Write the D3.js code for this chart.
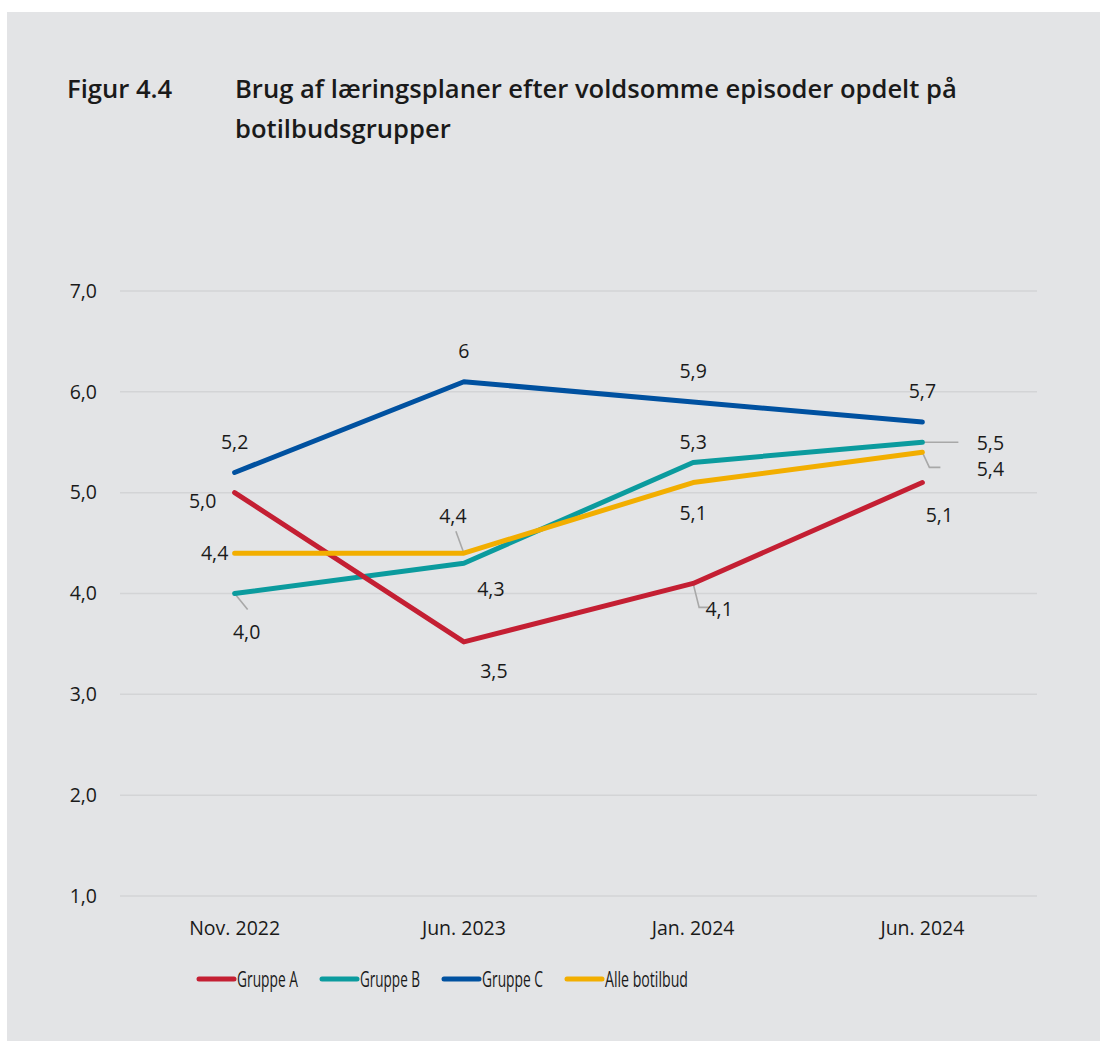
<!DOCTYPE html>
<html>
<head>
<meta charset="utf-8">
<script src="https://cdn.jsdelivr.net/npm/d3@7"></script>
<style>
  body { margin: 0; background: #fff; }
  svg text { font-family: "Open Sans", "Noto Sans", sans-serif; fill: #1a1a1a; }
</style>
</head>
<body>
<div id="chart"></div>
<script>
// categories and series
var periods = ["Nov. 2022", "Jun. 2023", "Jan. 2024", "Jun. 2024"];
var seriesNames = ["Gruppe A", "Gruppe B", "Gruppe C", "Alle botilbud"];
var gruppeA = [5.0, 3.52, 4.1, 5.1];
var gruppeB = [4.0, 4.3, 5.3, 5.5];
var gruppeC = [5.2, 6.1, 5.9, 5.7];
var alle = [4.4, 4.4, 5.1, 5.4];
// data labels as printed in the figure
var labelsA = ["5,0", "3,5", "4,1", "5,1"];
var labelsB = ["4,0", "4,3", "5,3", "5,5"];
var labelsC = ["5,2", "6", "5,9", "5,7"];
var labelsAlle = ["4,4", "4,4", "5,1", "5,4"];
var yTicks = [1, 2, 3, 4, 5, 6, 7];

var colors = ["#c41f33", "#0b9b9e", "#0051a0", "#f2ae00"];

// label placement: [dx, dy] from the point, and leader line points (relative)
var labelPlace = [
  [[-32, 9, null], [30, 29, null], [26, 26, [[0, 0], [6, 24], [17, 24]]], [17, 33, null]],
  [[12, 39, [[0, 0], [13, 16]]], [27, 26, null], [0, -20, null], [68, 1, [[0, 0], [36, 0]]]],
  [[0, -30, null], [0, -31, null], [0, -31, null], [0, -31, null]],
  [[-20, 0, null], [-11, -37, [[0, 0], [-8, -22]]], [0, 31, null], [68, 17, [[0, 0], [7, 15], [18, 15]]]]
];
var legendTextWidth = [61, 60, 61, 83];

var values = [gruppeA, gruppeB, gruppeC, alle];
var labels = [labelsA, labelsB, labelsC, labelsAlle];

var W = 1100, H = 1041;
var svg = d3.select("#chart").append("svg")
  .attr("width", W).attr("height", H);

// grey panel
svg.append("rect")
  .attr("x", 7).attr("y", 12)
  .attr("width", W - 7).attr("height", H - 12)
  .attr("fill", "#e3e4e6");

// title
svg.append("text").attr("x", 67).attr("y", 98)
  .style("font-size", "25.6px").style("font-weight", 600)
  .text("Figur 4.4");
svg.append("text").attr("x", 235).attr("y", 98)
  .style("font-size", "25.6px").style("font-weight", 600)
  .text("Brug af læringsplaner efter voldsomme episoder opdelt på");
svg.append("text").attr("x", 235).attr("y", 138)
  .style("font-size", "25.6px").style("font-weight", 600)
  .text("botilbudsgrupper");

var margin = {left: 120, right: 63, top: 291, bottom: 145};
var x = d3.scaleBand()
  .domain(periods)
  .range([margin.left, W - margin.right]);
var y = d3.scaleLinear()
  .domain([1, 7])
  .range([H - margin.bottom, margin.top]);

// gridlines
svg.append("g").selectAll("line")
  .data(yTicks)
  .enter().append("line")
  .attr("x1", margin.left).attr("x2", W - margin.right)
  .attr("y1", function(d) { return y(d); })
  .attr("y2", function(d) { return y(d); })
  .attr("stroke", "#d3d4d6").attr("stroke-width", 1.5);

// y labels
svg.append("g").selectAll("text")
  .data(yTicks)
  .enter().append("text")
  .attr("x", 97)
  .attr("y", function(d) { return y(d); })
  .attr("dy", "0.35em")
  .attr("text-anchor", "end")
  .style("font-size", "19.5px")
  .text(function(d) { return d3.format(".1f")(d).replace(".", ","); });

// x labels
svg.append("g").selectAll("text")
  .data(periods)
  .enter().append("text")
  .attr("x", function(d) { return x(d) + x.bandwidth() / 2; })
  .attr("y", 928)
  .attr("dy", "0.35em")
  .attr("text-anchor", "middle")
  .style("font-size", "19.5px")
  .text(function(d) { return d; });

var px = function(i) { return x(periods[i]) + x.bandwidth() / 2; };
var line = d3.line()
  .x(function(d, i) { return px(i); })
  .y(function(d) { return y(d); });

// leader lines first, then series
values.forEach(function(vals, s) {
  vals.forEach(function(v, i) {
    var pl = labelPlace[s][i];
    if (pl[2]) {
      svg.append("path")
        .attr("d", d3.line()(pl[2].map(function(p) { return [px(i) + p[0], y(v) + p[1]]; })))
        .attr("fill", "none")
        .attr("stroke", "#a8a8a8")
        .attr("stroke-width", 1.6);
    }
  });
});

// draw order: C, B, A, Alle (Alle on top like the original)
[2, 1, 0, 3].forEach(function(s) {
  svg.append("path")
    .datum(values[s])
    .attr("d", line)
    .attr("fill", "none")
    .attr("stroke", colors[s])
    .attr("stroke-width", 5)
    .attr("stroke-linecap", "round")
    .attr("stroke-linejoin", "round");
});

// data labels
values.forEach(function(vals, s) {
  vals.forEach(function(v, i) {
    var pl = labelPlace[s][i];
    svg.append("text")
      .attr("x", px(i) + pl[0])
      .attr("y", y(v) + pl[1])
      .attr("dy", "0.35em")
      .attr("text-anchor", "middle")
      .style("font-size", "19.5px")
      .text(labels[s][i]);
  });
});

// legend
var legend = svg.append("g");
var lx = 197;
seriesNames.forEach(function(name, s) {
  legend.append("line")
    .attr("x1", lx + 2).attr("x2", lx + 37)
    .attr("y1", 979).attr("y2", 979)
    .attr("stroke", colors[s]).attr("stroke-width", 5)
    .attr("stroke-linecap", "round");
  // squeeze the text horizontally to mimic the narrow face
  var g = legend.append("g");
  var t = g.append("text")
    .attr("x", 0).attr("y", 0)
    .attr("dy", "0.35em")
    .style("font-size", "21.5px")
    .text(name);
  var sx = legendTextWidth[s] / t.node().getComputedTextLength();
  g.attr("transform", "translate(" + (lx + 40) + ",979) scale(" + sx + ",1)");
  lx = lx + 40 + legendTextWidth[s] + 22;
});
</script>
</body>
</html>
